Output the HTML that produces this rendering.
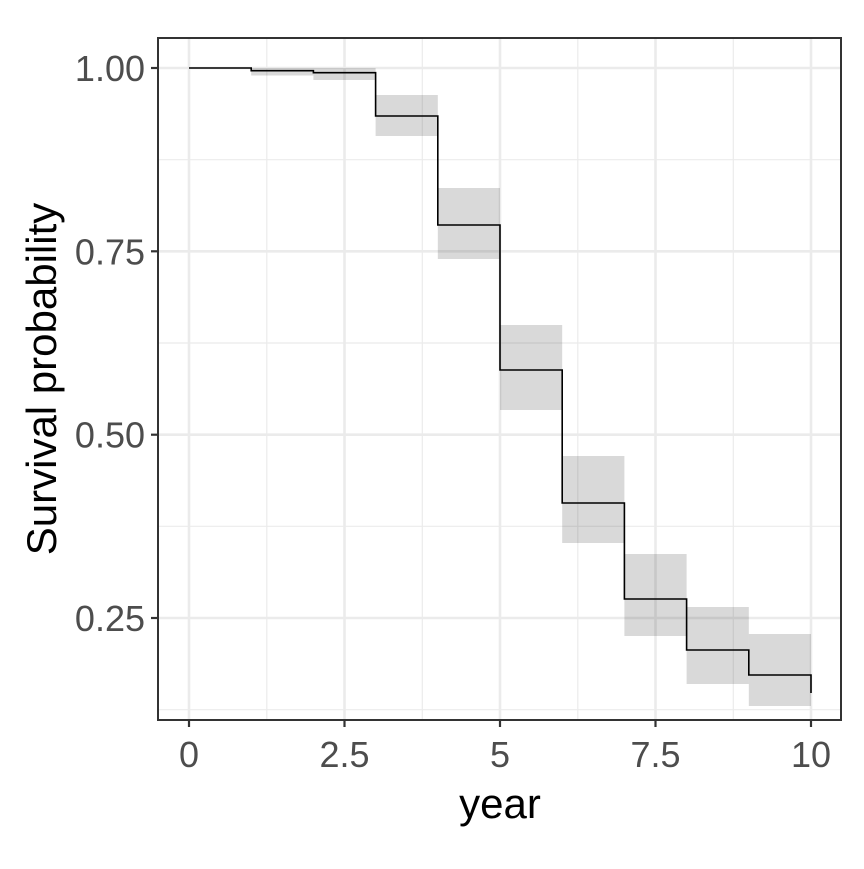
<!DOCTYPE html>
<html><head><meta charset="utf-8"><style>body{margin:0;background:#fff}</style></head><body>
<svg width="864" height="864" xmlns="http://www.w3.org/2000/svg" font-family="Liberation Sans, sans-serif">
<rect width="864" height="864" fill="#fff"/>
<g stroke="#ebebeb" stroke-width="1.2">
<line x1="158" x2="841" y1="709.7" y2="709.7"/><line x1="158" x2="841" y1="526.3" y2="526.3"/><line x1="158" x2="841" y1="343" y2="343"/><line x1="158" x2="841" y1="159.7" y2="159.7"/>
<line x1="266.8" x2="266.8" y1="38" y2="720"/><line x1="422.3" x2="422.3" y1="38" y2="720"/><line x1="577.8" x2="577.8" y1="38" y2="720"/><line x1="733.3" x2="733.3" y1="38" y2="720"/>
</g>
<g stroke="#ebebeb" stroke-width="2.6">
<line x1="158" x2="841" y1="618" y2="618"/><line x1="158" x2="841" y1="434.7" y2="434.7"/><line x1="158" x2="841" y1="251.3" y2="251.3"/><line x1="158" x2="841" y1="68" y2="68"/>
<line x1="189" x2="189" y1="38" y2="720"/><line x1="344.5" x2="344.5" y1="38" y2="720"/><line x1="500" x2="500" y1="38" y2="720"/><line x1="655.5" x2="655.5" y1="38" y2="720"/><line x1="811" x2="811" y1="38" y2="720"/>
</g>
<g fill="#000" fill-opacity="0.15">
<rect x="251.2" y="68" width="62.2" height="7.5"/>
<rect x="313.4" y="68" width="62.2" height="12"/>
<rect x="375.6" y="95" width="62.2" height="41"/>
<rect x="437.8" y="188" width="62.2" height="71"/>
<rect x="500" y="325" width="62.2" height="85"/>
<rect x="562.2" y="456" width="62.2" height="87"/>
<rect x="624.4" y="554" width="62.2" height="82"/>
<rect x="686.6" y="607" width="62.2" height="77"/>
<rect x="748.8" y="634" width="62.2" height="72"/>
</g>
<path d="M189,68 H251.2 V70.7 H313.4 V72.7 H375.6 V116 H437.8 V225 H500 V370 H562.2 V503 H624.4 V599 H686.6 V650 H748.8 V675 H811 V693" fill="none" stroke="#000" stroke-width="1.6"/>
<rect x="158" y="38" width="683" height="682" fill="none" stroke="#333" stroke-width="2"/>
<g stroke="#333" stroke-width="2.2">
<line x1="151" x2="158" y1="68" y2="68"/><line x1="151" x2="158" y1="251.3" y2="251.3"/><line x1="151" x2="158" y1="434.7" y2="434.7"/><line x1="151" x2="158" y1="618" y2="618"/>
<line x1="189" x2="189" y1="720" y2="727"/><line x1="344.5" x2="344.5" y1="720" y2="727"/><line x1="500" x2="500" y1="720" y2="727"/><line x1="655.5" x2="655.5" y1="720" y2="727"/><line x1="811" x2="811" y1="720" y2="727"/>
</g>
<g fill="#4d4d4d" font-size="36" text-anchor="end">
<text x="145" y="81">1.00</text><text x="145" y="264.3">0.75</text><text x="145" y="447.7">0.50</text><text x="145" y="631">0.25</text>
</g>
<g fill="#4d4d4d" font-size="36" text-anchor="middle">
<text x="189" y="767">0</text><text x="344.5" y="767">2.5</text><text x="500" y="767">5</text><text x="655.5" y="767">7.5</text><text x="811" y="767">10</text>
</g>
<text x="500" y="818" font-size="42" text-anchor="middle" fill="#000">year</text>
<text transform="translate(56,379) rotate(-90)" font-size="42" text-anchor="middle" fill="#000">Survival probability</text>
</svg>
</body></html>
